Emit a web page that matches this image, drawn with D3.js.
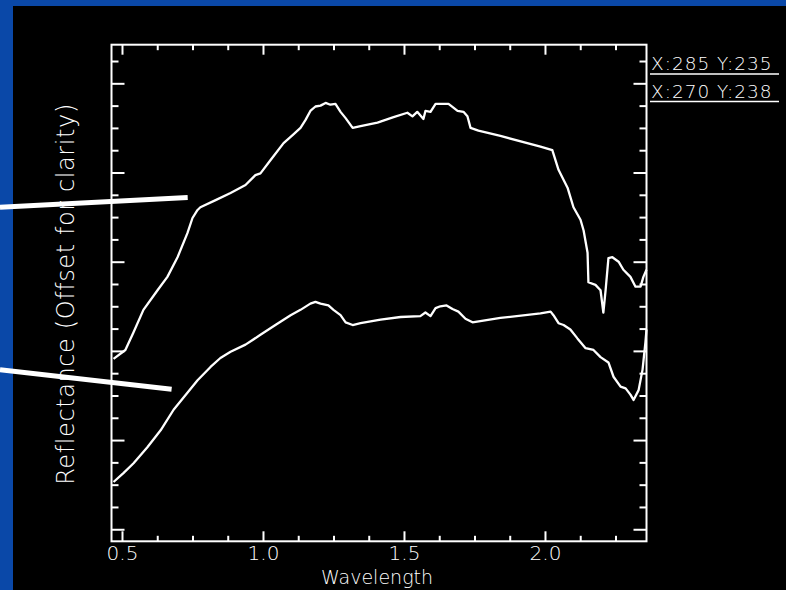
<!DOCTYPE html>
<html>
<head>
<meta charset="utf-8">
<script src="https://cdn.jsdelivr.net/npm/d3@7"></script>
<style>
  html, body { margin: 0; padding: 0; background: #0a48a8; }
  svg { display: block; }
  text { font-family: "DejaVu Sans", sans-serif; font-weight: 200; fill: #fff; }
</style>
</head>
<body>
<div id="chart"></div>
<script>
// spectrum at X:285 Y:235 (upper, offset)
var upperWl = [0.470, 0.512, 0.541, 0.576, 0.626, 0.661, 0.697, 0.732, 0.750, 0.768, 0.778, 0.832, 0.885, 0.938, 0.973, 0.991,
  1.027, 1.073, 1.105, 1.133, 1.151, 1.168, 1.186, 1.204, 1.222, 1.239, 1.257, 1.275, 1.293, 1.318, 1.346, 1.406, 1.463,
  1.512, 1.530, 1.547, 1.569, 1.576, 1.594, 1.612, 1.637, 1.658, 1.690, 1.711, 1.725, 1.736, 1.764, 1.842, 1.984, 2.026,
  2.048, 2.080, 2.101, 2.126, 2.137, 2.151, 2.154, 2.179, 2.197, 2.207, 2.215, 2.225, 2.239, 2.261, 2.278, 2.303, 2.321,
  2.339, 2.349, 2.360];
var upperRefl = [0.191, 0.201, 0.221, 0.246, 0.268, 0.283, 0.305, 0.332, 0.349, 0.358, 0.361, 0.369, 0.377, 0.386, 0.397, 0.399,
  0.414, 0.433, 0.442, 0.450, 0.459, 0.469, 0.474, 0.475, 0.478, 0.476, 0.477, 0.468, 0.461, 0.450, 0.452, 0.456, 0.462,
  0.467, 0.463, 0.468, 0.460, 0.469, 0.468, 0.477, 0.477, 0.477, 0.469, 0.468, 0.463, 0.450, 0.447, 0.441, 0.429, 0.425,
  0.403, 0.383, 0.361, 0.347, 0.335, 0.310, 0.277, 0.274, 0.268, 0.243, 0.268, 0.304, 0.305, 0.300, 0.291, 0.283, 0.272,
  0.272, 0.283, 0.291];

// spectrum at X:270 Y:238 (lower)
var lowerWl = [0.470, 0.505, 0.541, 0.590, 0.637, 0.683, 0.732, 0.768, 0.814, 0.849, 0.885, 0.938, 0.991, 1.044, 1.098, 1.133,
  1.168, 1.186, 1.204, 1.232, 1.250, 1.275, 1.293, 1.318, 1.346, 1.417, 1.488, 1.558, 1.576, 1.594, 1.612, 1.629, 1.651,
  1.672, 1.693, 1.718, 1.743, 1.842, 1.984, 2.020, 2.030, 2.048, 2.066, 2.090, 2.115, 2.144, 2.172, 2.197, 2.225, 2.243,
  2.268, 2.286, 2.303, 2.314, 2.332, 2.346, 2.356, 2.360];
var lowerRefl = [0.053, 0.063, 0.074, 0.092, 0.111, 0.134, 0.153, 0.167, 0.182, 0.192, 0.199, 0.207, 0.218, 0.229, 0.240, 0.246,
  0.253, 0.255, 0.253, 0.251, 0.246, 0.240, 0.232, 0.229, 0.231, 0.235, 0.238, 0.239, 0.243, 0.239, 0.248, 0.250, 0.251,
  0.247, 0.244, 0.236, 0.232, 0.237, 0.242, 0.244, 0.240, 0.231, 0.229, 0.224, 0.214, 0.203, 0.201, 0.193, 0.187, 0.171,
  0.160, 0.158, 0.151, 0.145, 0.156, 0.179, 0.209, 0.224];

var legendLabels = ['X:285 Y:235', 'X:270 Y:238'];
var xTickValues = [0.5, 1.0, 1.5, 2.0];
var xTickLabels = ['0.5', '1.0', '1.5', '2.0'];

// pointer lines from the slide, in data units: [wl0, r0, wl1, r1]
var pointers = [[0.0674, 0.361, 0.733, 0.372], [0.0674, 0.179, 0.676, 0.157]];

var svgWidth = 786;
var svgHeight = 590;
var plotLeft = 111.5, plotRight = 646.5, plotTop = 44.7, plotBottom = 541.3;

var svg = d3.select('#chart')
  .append('svg')
  .attr('width', svgWidth)
  .attr('height', svgHeight);

// black panel on the blue slide
svg.append('rect')
  .attr('x', 13).attr('y', 6)
  .attr('width', svgWidth - 13).attr('height', svgHeight - 6)
  .attr('fill', '#000');

var xScale = d3.scaleLinear().domain([0.4628, 2.36]).range([plotLeft, plotRight]);
var yScale = d3.scaleLinear().domain([-0.0135, 0.5433]).range([plotBottom, plotTop]);

var xMinor = d3.range(0.5, 2.36, 0.125).filter(v => xTickValues.indexOf(v) < 0);
var yMajor = d3.range(0, 0.51, 0.1);
var yMinor = d3.range(0, 0.54, 0.025).filter(v => Math.abs(Math.round(v * 10) - v * 10) > 0.01);

function styleAxis(g) {
  g.select('.domain').remove();
  g.selectAll('line').attr('stroke', '#fff').attr('stroke-width', 2);
}

// bottom axis with labels
svg.append('g')
  .attr('transform', 'translate(0,' + plotBottom + ')')
  .call(d3.axisBottom(xScale).tickValues(xTickValues).tickSize(-10).tickPadding(5)
    .tickFormat((d, i) => xTickLabels[i]))
  .call(styleAxis)
  .call(g => g.selectAll('text').attr('font-size', 20).attr('font-family', null).attr('fill', '#fff'));

svg.append('g')
  .attr('transform', 'translate(0,' + plotBottom + ')')
  .call(d3.axisBottom(xScale).tickValues(xMinor).tickSize(-5.5).tickFormat(''))
  .call(styleAxis);

// top axis
svg.append('g')
  .attr('transform', 'translate(0,' + plotTop + ')')
  .call(d3.axisTop(xScale).tickValues(xTickValues).tickSize(-10).tickFormat(''))
  .call(styleAxis);

svg.append('g')
  .attr('transform', 'translate(0,' + plotTop + ')')
  .call(d3.axisTop(xScale).tickValues(xMinor).tickSize(-5.5).tickFormat(''))
  .call(styleAxis);

// left and right axes, no labels
svg.append('g')
  .attr('transform', 'translate(' + plotLeft + ',0)')
  .call(d3.axisLeft(yScale).tickValues(yMajor).tickSize(-13).tickFormat(''))
  .call(styleAxis);

svg.append('g')
  .attr('transform', 'translate(' + plotLeft + ',0)')
  .call(d3.axisLeft(yScale).tickValues(yMinor).tickSize(-7).tickFormat(''))
  .call(styleAxis);

svg.append('g')
  .attr('transform', 'translate(' + plotRight + ',0)')
  .call(d3.axisRight(yScale).tickValues(yMajor).tickSize(-13).tickFormat(''))
  .call(styleAxis);

svg.append('g')
  .attr('transform', 'translate(' + plotRight + ',0)')
  .call(d3.axisRight(yScale).tickValues(yMinor).tickSize(-7).tickFormat(''))
  .call(styleAxis);

// frame
svg.append('rect')
  .attr('x', plotLeft).attr('y', plotTop)
  .attr('width', plotRight - plotLeft).attr('height', plotBottom - plotTop)
  .attr('fill', 'none')
  .attr('stroke', '#fff')
  .attr('stroke-width', 2);

// spectra
var line = d3.line()
  .x(d => xScale(d[0]))
  .y(d => yScale(d[1]));

[[upperWl, upperRefl], [lowerWl, lowerRefl]].forEach(function (s) {
  svg.append('path')
    .datum(d3.zip(s[0], s[1]))
    .attr('d', line)
    .attr('fill', 'none')
    .attr('stroke', '#fff')
    .attr('stroke-width', 2.3)
    .attr('stroke-linejoin', 'round');
});

// axis titles
svg.append('text')
  .attr('x', (plotLeft + plotRight) / 2 - 2)
  .attr('y', 583.5)
  .attr('text-anchor', 'middle')
  .attr('font-size', 19)
  .text('Wavelength');

svg.append('text')
  .attr('transform', 'translate(74,294) rotate(-90)')
  .attr('text-anchor', 'middle')
  .attr('font-size', 24)
  .attr('letter-spacing', 0.6)
  .text('Reflectance (Offset for clarity)');

// legend (pixel positions of the spectra)
legendLabels.forEach(function (t, i) {
  svg.append('text')
    .attr('x', 651)
    .attr('y', 69.5 + i * 28)
    .attr('font-size', 18.5)
    .attr('letter-spacing', 1)
    .text(t);
  svg.append('line')
    .attr('x1', 650).attr('x2', 779)
    .attr('y1', 74 + i * 27.5).attr('y2', 74 + i * 27.5)
    .attr('stroke', '#fff')
    .attr('stroke-width', 1.5);
});

// pointer lines drawn over the slide
svg.selectAll('.pointer')
  .data(pointers)
  .enter()
  .append('line')
  .attr('class', 'pointer')
  .attr('x1', d => xScale(d[0]))
  .attr('y1', d => yScale(d[1]))
  .attr('x2', d => xScale(d[2]))
  .attr('y2', d => yScale(d[3]))
  .attr('stroke', '#fff')
  .attr('stroke-width', 5);
</script>
</body>
</html>
